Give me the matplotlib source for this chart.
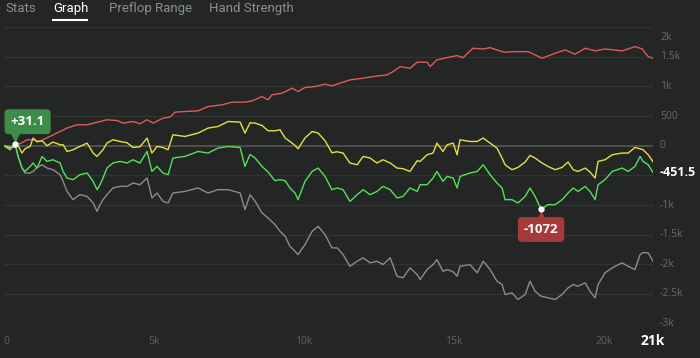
import matplotlib.pyplot as plt
from matplotlib.lines import Line2D
from matplotlib.transforms import blended_transform_factory, offset_copy

plt.rcParams['font.family'] = ['Open Sans', 'DejaVu Sans']

# hands played (shared by yellow / green / gray)
hands = [0, 200, 370, 470, 600, 700, 870, 970, 1100, 1270, 1430, 1630, 1870, 1970,
         2100, 2300, 2530, 2770, 2970, 3100, 3200, 3300, 3430, 3630, 3870, 4100, 4300,
         4530, 4770, 4930, 5100, 5300, 5470, 5630, 6030, 6470, 6800, 7130, 7470, 7870,
         8030, 8200, 8370, 8600, 8800, 9030, 9200, 9370, 9530, 9700, 9800, 10030, 10270,
         10470, 10700, 10930, 11100, 11300, 11530, 11770, 11970, 12200, 12430, 12630,
         12870, 13100, 13300, 13530, 13770, 13870, 14100, 14300, 14430, 14630, 14770,
         14970, 15100, 15200, 15530, 15770, 15970, 16200, 16430, 16600, 16700, 16930,
         17130, 17370, 17530, 17700, 17900, 18130, 18370, 18600, 18800, 18970, 19130,
         19370, 19530, 19700, 19800, 20030, 20270, 20600, 20800, 21030, 21200, 21300,
         21470, 21630]

yellow = [0, -34, -17, 0, -123, -51, -12, 130, 67, 84, 0, 62, 17, 17, -96, -67, -12,
          45, -123, -180, -123, -67, 45, 101, 72, 51, -29, -17, 130, -123, -12, -29, -67,
          185, 157, 214, 298, 325, 409, 399, 214, 387, 382, 342, 253, 253, 269, 130, 72,
          5, -51, 130, 241, 214, 84, -118, -101, -123, -291, -320, -180, -207, -291, -236,
          -291, -376, -387, -433, -253, -264, -152, -123, 45, -96, 17, 45, -152, 101, 72,
          72, 130, 45, -39, -207, -320, -404, -365, -274, -163, -207, -281, -349, -404,
          -365, -274, -404, -433, -376, -443, -544, -264, -236, -152, -123, -123, -29,
          -51, -67, -152, -269]

green = [0, -67, 31.1, -180, -376, -433, -349, -291, -376, -180, -264, -236, -291, -433,
         -544, -573, -488, -460, -601, -741, -657, -544, -376, -291, -264, -291, -236,
         -291, -96, -433, -349, -460, -488, -207, -180, -96, -123, -39, -12, -29, -349,
         -147, -207, -349, -443, -589, -573, -589, -712, -797, -909, -601, -433, -376,
         -517, -741, -712, -741, -938, -825, -741, -825, -770, -685, -741, -881, -854,
         -712, -770, -657, -657, -544, -433, -601, -517, -544, -712, -517, -460, -433,
         -320, -488, -628, -712, -909, -909, -965, -854, -712, -854, -1072, -994, -994,
         -909, -797, -712, -770, -685, -770, -909, -657, -573, -433, -376, -433, -349,
         -180, -264, -320, -451.5]

gray = [0, -67, 31, -180, -376, -460, -460, -433, -370, -320, -376, -404, -488, -601,
        -770, -909, -825, -854, -965, -1106, -994, -909, -825, -712, -685, -685, -628,
        -657, -544, -881, -797, -938, -965, -797, -770, -712, -797, -741, -741, -797,
        -1078, -825, -938, -1133, -1218, -1330, -1443, -1527, -1696, -1780, -1836, -1667,
        -1443, -1359, -1499, -1723, -1723, -1836, -2033, -1948, -1891, -1975, -1948,
        -2004, -1891, -2201, -2228, -2060, -2172, -2256, -2088, -2004, -1920, -2117,
        -2088, -2127, -2201, -2033, -2004, -2144, -1948, -2088, -2285, -2341, -2509,
        -2481, -2593, -2509, -2285, -2454, -2538, -2565, -2593, -2509, -2397, -2341,
        -2369, -2312, -2454, -2565, -2341, -2144, -2060, -1975, -2033, -2088, -1836,
        -1802, -1807, -1948]

red_hands = [0, 200, 430, 600, 770, 970, 1200, 1300, 1530, 1870, 2100, 2430, 2770, 3200,
             3430, 3770, 3970, 4300, 4530, 4770, 4970, 5300, 5530, 5700, 6030, 6470, 6800,
             7270, 7600, 8030, 8270, 8600, 8800, 8930, 9270, 9600, 9800, 10030, 10370,
             10700, 10930, 11530, 11970, 12300, 12770, 12970, 13200, 13530, 13770, 14100,
             14200, 14430, 14770, 15100, 15300, 15630, 15970, 16200, 16530, 16700, 17030,
             17470, 17930, 18370, 18700, 19030, 19370, 19700, 20030, 20600, 21030, 21270,
             21470, 21630]
red = [0, -17, 17, 51, 101, 101, 72, 101, 157, 241, 298, 354, 354, 409, 438, 426, 382,
       409, 371, 438, 382, 466, 483, 567, 578, 589, 661, 691, 736, 736, 758, 829, 775,
       859, 887, 971, 914, 982, 999, 1039, 1010, 1111, 1140, 1167, 1196, 1251, 1335,
       1308, 1410, 1410, 1335, 1448, 1487, 1521, 1487, 1645, 1633, 1655, 1600, 1578,
       1588, 1588, 1477, 1561, 1617, 1544, 1645, 1600, 1633, 1600, 1672, 1633, 1504, 1477]

y_ticks = [2000, 1500, 1000, 500, 0, -1000, -1500, -2000, -2500, -3000]
y_labels = ['2k', '1.5k', '1k', '500', '0', '-1k', '-1.5k', '-2k', '-2.5k', '-3k']
x_ticks = [0, 5000, 10000, 15000, 20000]
x_labels = ['0', '5k', '10k', '15k', '20k']
tabs = ['Stats', 'Graph', 'Preflop Range', 'Hand Strength']
tab_x = [5, 53, 109, 209]  # left edge in pixels

bg = '#232624'
W, H = 700, 358
fig = plt.figure(figsize=(7, 3.58), dpi=100, facecolor=bg)

# tabs at the top
for name, px in zip(tabs, tab_x):
    fig.text(px / W, 1 - 8.5 / H, name, fontsize=9.5, va='center', ha='left',
             family=['Roboto', 'DejaVu Sans'],
             color='white' if name == 'Graph' else '#8a8f8c')
fig.add_artist(Line2D([53 / W, 87 / W], [1 - 19.5 / H] * 2, color='white', lw=1.5))

ax = fig.add_axes([4 / W, 1 - 323.6 / H, 649 / W, 296.4 / H])
ax.set_facecolor(bg)
ax.set_xlim(0, hands[-1])
ax.set_ylim(-3000, 2000)
ax.set_xticks([])
ax.set_yticks([])
for s in ax.spines.values():
    s.set_visible(False)

for v in range(-3000, 2001, 500):
    if v == 0:
        ax.axhline(v, color='#595c58', lw=1.1, zorder=1)
    else:
        ax.axhline(v, color='#313432', lw=1.0, zorder=1)
ax.axvline(hands[-1], color='#383b39', lw=1.0, zorder=1)

ax.plot(red_hands, red, color='#e05a5c', lw=1.0, zorder=3)
ax.plot(hands, gray, color='#8c8c8c', lw=1.0, zorder=3)
ax.plot(hands, yellow, color='#e6df45', lw=1.0, zorder=4)
ax.plot(hands, green, color='#55e05a', lw=1.0, zorder=5)

# y labels on the right
ty = blended_transform_factory(ax.transAxes, ax.transData)
for v, lab in zip(y_ticks, y_labels):
    yy = 1820 if v == 2000 else v
    ax.text(1 + 7 / 649, yy, lab, transform=ty, fontsize=7.5, color='#676b69',
            va='center', ha='left', clip_on=False)
ax.text(1 + 7 / 649, green[-1], f'{green[-1]:g}', transform=ty, fontsize=9,
        fontweight='bold', color='white', va='center', ha='left', clip_on=False)

# x labels below
tx = blended_transform_factory(ax.transData, ax.transAxes)
for v, lab in zip(x_ticks, x_labels):
    ax.text(v, -17.5 / 296.4, lab, transform=tx, fontsize=7.5, color='#5f6361',
            va='center', ha='left' if v == 0 else 'center', clip_on=False)
ax.text(hands[-1], -17.5 / 296.4, '21k', transform=tx, fontsize=10, fontweight='bold',
        color='white', va='center', ha='center', clip_on=False)

# max / min markers on the green line
i_max = green.index(max(green))
i_min = green.index(min(green))

ax.plot(hands[i_max], green[i_max], 'o', color='white', ms=3.5, zorder=7)
ax.plot(hands[i_max], green[i_max], 'v', color='#3d8c47', ms=6, zorder=6,
        transform=offset_copy(ax.transData, fig, x=0, y=5, units='points'))
ax.annotate(f'+{green[i_max]:g}', (hands[i_max], green[i_max]), xytext=(9, 16),
            textcoords='offset points', ha='center', va='center', fontsize=9.5,
            fontweight='bold', color='white', zorder=8,
            bbox=dict(boxstyle='round,pad=0.45,rounding_size=0.3', fc='#3d8c47', ec='none'))

ax.plot(hands[i_min], green[i_min], 'o', color='white', ms=3.5, zorder=7)
ax.plot(hands[i_min], green[i_min], '^', color='#a63a3a', ms=6, zorder=6,
        transform=offset_copy(ax.transData, fig, x=0, y=-4.5, units='points'))
ax.annotate(f'{green[i_min]:g}', (hands[i_min], green[i_min]), xytext=(0, -14.5),
            textcoords='offset points', ha='center', va='center', fontsize=9.5,
            fontweight='bold', color='white', zorder=8,
            bbox=dict(boxstyle='round,pad=0.45,rounding_size=0.3', fc='#a63a3a', ec='none'))

fig.savefig('out.png', dpi=100, facecolor=bg)
